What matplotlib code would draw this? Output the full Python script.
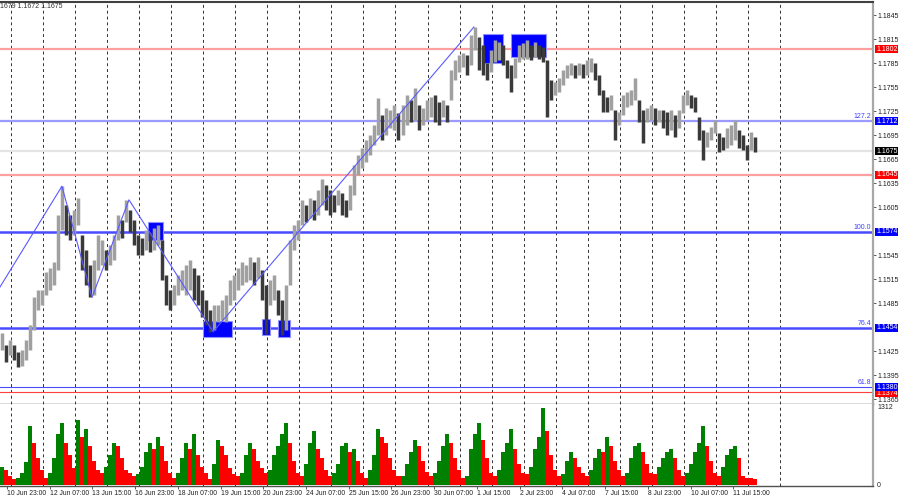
import numpy as np
import matplotlib
matplotlib.use('Agg')
import matplotlib.pyplot as plt
from matplotlib.patches import Rectangle
from matplotlib.transforms import blended_transform_factory

# ---- data: EURUSD, each bar below = 3 hours of the H1 chart ----
highs = [
    1.1447, 1.1432, 1.1439, 1.1432, 1.1424, 1.1426, 1.1439, 1.1457, 1.1492, 1.1501,
    1.1501, 1.1524, 1.1529, 1.1536, 1.1595, 1.1631, 1.1607, 1.1595, 1.1601, 1.1616,
    1.1570, 1.1551, 1.1532, 1.1539, 1.1570, 1.1564, 1.1551, 1.1557, 1.1570, 1.1595,
    1.1589, 1.1614, 1.1601, 1.1589, 1.1570, 1.1566, 1.1576, 1.1574, 1.1579, 1.1582,
    1.1564, 1.1520, 1.1501, 1.1507, 1.1520, 1.1526, 1.1532, 1.1539, 1.1529, 1.1520,
    1.1501, 1.1489, 1.1476, 1.1482, 1.1482, 1.1489, 1.1495, 1.1514, 1.1520, 1.1529,
    1.1536, 1.1532, 1.1542, 1.1536, 1.1542, 1.1526, 1.1507, 1.1514, 1.1520, 1.1501,
    1.1489, 1.1507, 1.1564, 1.1582, 1.1589, 1.1614, 1.1607, 1.1616, 1.1614, 1.1626,
    1.1640, 1.1632, 1.1626, 1.1620, 1.1626, 1.1622, 1.1614, 1.1632, 1.1657, 1.1670,
    1.1679, 1.1689, 1.1695, 1.1707, 1.1741, 1.1720, 1.1729, 1.1726, 1.1732, 1.1722,
    1.1732, 1.1745, 1.1739, 1.1754, 1.1732, 1.1729, 1.1739, 1.1742, 1.1745, 1.1736,
    1.1739, 1.1732, 1.1776, 1.1789, 1.1795, 1.1797, 1.1795, 1.1820, 1.1830, 1.1817,
    1.1807, 1.1785, 1.1801, 1.1814, 1.1811, 1.1807, 1.1789, 1.1782, 1.1791, 1.1807,
    1.1810, 1.1814, 1.1807, 1.1811, 1.1807, 1.1805, 1.1789, 1.1764, 1.1761, 1.1766,
    1.1776, 1.1782, 1.1785, 1.1782, 1.1785, 1.1784, 1.1789, 1.1791, 1.1785, 1.1770,
    1.1751, 1.1742, 1.1745, 1.1726, 1.1724, 1.1745, 1.1749, 1.1751, 1.1766, 1.1739,
    1.1726, 1.1729, 1.1732, 1.1729, 1.1726, 1.1726, 1.1724, 1.1726, 1.1720, 1.1726,
    1.1745, 1.1751, 1.1745, 1.1742, 1.1717, 1.1701, 1.1699, 1.1705, 1.1714, 1.1697,
    1.1692, 1.1704, 1.1707, 1.1714, 1.1701, 1.1695, 1.1682, 1.1699, 1.1692,
]
lows = [
    1.1426, 1.1411, 1.1420, 1.1414, 1.1405, 1.1406, 1.1414, 1.1426, 1.1451, 1.1476,
    1.1482, 1.1495, 1.1501, 1.1507, 1.1526, 1.1576, 1.1570, 1.1564, 1.1570, 1.1582,
    1.1526, 1.1507, 1.1492, 1.1495, 1.1526, 1.1532, 1.1526, 1.1532, 1.1539, 1.1564,
    1.1566, 1.1586, 1.1574, 1.1557, 1.1545, 1.1545, 1.1551, 1.1549, 1.1551, 1.1557,
    1.1514, 1.1482, 1.1476, 1.1482, 1.1495, 1.1501, 1.1495, 1.1501, 1.1489, 1.1482,
    1.1467, 1.1457, 1.1449, 1.1451, 1.1461, 1.1464, 1.1461, 1.1482, 1.1489, 1.1501,
    1.1507, 1.1511, 1.1514, 1.1507, 1.1516, 1.1489, 1.1446, 1.1482, 1.1489, 1.1470,
    1.1445, 1.1451, 1.1507, 1.1551, 1.1564, 1.1582, 1.1586, 1.1591, 1.1589, 1.1595,
    1.1607, 1.1601, 1.1595, 1.1599, 1.1607, 1.1595, 1.1592, 1.1601, 1.1620, 1.1645,
    1.1654, 1.1661, 1.1670, 1.1682, 1.1695, 1.1689, 1.1695, 1.1704, 1.1701, 1.1689,
    1.1695, 1.1707, 1.1711, 1.1714, 1.1701, 1.1707, 1.1714, 1.1717, 1.1711, 1.1707,
    1.1717, 1.1711, 1.1739, 1.1764, 1.1774, 1.1780, 1.1770, 1.1782, 1.1801, 1.1776,
    1.1770, 1.1764, 1.1774, 1.1786, 1.1789, 1.1782, 1.1766, 1.1749, 1.1766, 1.1786,
    1.1790, 1.1790, 1.1789, 1.1792, 1.1790, 1.1786, 1.1717, 1.1739, 1.1745, 1.1749,
    1.1757, 1.1766, 1.1770, 1.1766, 1.1770, 1.1766, 1.1770, 1.1774, 1.1764, 1.1745,
    1.1724, 1.1724, 1.1726, 1.1689, 1.1707, 1.1720, 1.1730, 1.1732, 1.1739, 1.1711,
    1.1685, 1.1711, 1.1714, 1.1707, 1.1711, 1.1704, 1.1695, 1.1701, 1.1692, 1.1704,
    1.1722, 1.1732, 1.1729, 1.1724, 1.1689, 1.1664, 1.1680, 1.1689, 1.1697, 1.1674,
    1.1676, 1.1679, 1.1682, 1.1689, 1.1679, 1.1676, 1.1664, 1.1676, 1.1674,
]
volumes = [
    300, 250, 150, 100, 120, 200, 380, 1000, 700, 450,
    250, 120, 200, 450, 850, 1050, 700, 500, 280, 1100,
    800, 950, 650, 400, 250, 200, 300, 500, 700, 650,
    450, 250, 200, 150, 180, 300, 550, 700, 600, 800,
    650, 400, 200, 120, 200, 450, 700, 600, 850, 500,
    300, 200, 100, 350, 750, 650, 500, 280, 180, 150,
    200, 500, 700, 600, 400, 280, 200, 250, 500, 650,
    850, 1050, 700, 400, 200, 150, 350, 700, 900, 600,
    450, 250, 150, 200, 350, 650, 700, 550, 600, 400,
    200, 120, 250, 500, 950, 800, 700, 450, 250, 150,
    150, 350, 550, 750, 650, 400, 220, 150, 200, 400,
    650, 850, 700, 450, 250, 120, 150, 600, 850, 1050,
    750, 450, 200, 150, 250, 550, 700, 950, 600, 350,
    200, 180, 300, 600, 800, 1300, 900, 500, 250, 150,
    180, 400, 550, 450, 300, 200, 150, 250, 450, 600,
    550, 800, 650, 400, 250, 150, 200, 450, 650, 700,
    550, 350, 200, 180, 300, 450, 550, 600, 450, 250,
    150, 200, 350, 550, 700, 1000, 650, 400, 200, 150,
    300, 500, 600, 650, 450, 150, 120, 110, 100,
]
vol_max = 1312
last_price = 1.1675
header = "1679 1.1672 1.1675"

time_labels = ["10 Jun 23:00", "12 Jun 07:00", "13 Jun 15:00", "16 Jun 23:00",
               "18 Jun 07:00", "19 Jun 15:00", "20 Jun 23:00", "24 Jun 07:00",
               "25 Jun 15:00", "26 Jun 23:00", "30 Jun 07:00", "1 Jul 15:00",
               "2 Jul 23:00", "4 Jul 07:00", "7 Jul 15:00", "8 Jul 23:00",
               "10 Jul 07:00", "11 Jul 15:00"]
price_ticks = [1.1365, 1.1395, 1.1425, 1.1485, 1.1515, 1.1545, 1.1605, 1.1635,
               1.1665, 1.1695, 1.1725, 1.1755, 1.1785, 1.1815, 1.1845]

red_levels = [1.1802, 1.1645, 1.1374]
fib_levels = [1.1712, 1.1574, 1.1454, 1.1380]
fib_names = ["127.2", "100.0", "76.4", "61.8"]

# zigzag pivots (hour index, price)
zz_hours = [0, 46.4, 68.9, 96.6, 159.6, 355.0]
zz_prices = [1.1505, 1.1631, 1.1492, 1.1614, 1.1449, 1.1830]

# blue signal boxes
box_start = [110.9, 152.1, 196.3, 208.2, 361.8, 382.8]
box_end = [122.1, 173.8, 202.2, 217.2, 376.8, 409.0]
box_top = [1.1586, 1.1463, 1.1465, 1.1464, 1.1821, 1.1821]
box_bottom = [1.1564, 1.1443, 1.1445, 1.1443, 1.1785, 1.1792]

# ---- layout (pixels of a 900x500 canvas) ----
W, H = 900, 500
PX_HOUR = 1.335
plt.rcParams['font.family'] = ['Liberation Sans', 'DejaVu Sans']
FS = 5.0

fig = plt.figure(figsize=(9, 5), dpi=100)
fig.patch.set_facecolor('white')
ax = fig.add_axes([0, 1 - 404 / H, 873 / W, 402 / H])
axv = fig.add_axes([0, 1 - 486 / H, 873 / W, 82 / H])

xmax = 873 / PX_HOUR
ax.set_xlim(0, xmax)
axv.set_xlim(0, xmax)
ax.set_ylim(1.1815 - 365 / 8000, 1.1815 + 37 / 8000)
axv.set_ylim(-17, vol_max * 81 / 78)

n = len(highs)
x = np.arange(n) * 3 + 1.5
mids = (np.array(highs) + np.array(lows)) / 2
up = np.r_[True, mids[1:] >= mids[:-1]]

# vertical dashed grid (one per day)
for k in range(25):
    gx = 8.24 + 24 * k
    for a in (ax, axv):
        a.axvline(gx, color='#303030', lw=0.7, ls=(0, (3, 3)), zorder=1)

# horizontal levels
tr = blended_transform_factory(ax.transAxes, ax.transData)
ax.axhline(last_price, color='#e4e4e4', lw=1.6, zorder=1)
for p in red_levels[:2]:
    ax.axhline(p, color='#ffa0a0', lw=1.6, zorder=1)
ax.axhline(red_levels[2], color='#ff4040', lw=0.8, zorder=1)
fib_styles = [('#9a9aff', 1.6), ('#4a4aff', 1.8), ('#4a4aff', 1.8), ('#4a4aff', 0.8)]
for p, name, (c, lw) in zip(fib_levels, fib_names, fib_styles):
    ax.axhline(p, color=c, lw=lw, zorder=1)
    ax.text(0.998, p + 0.00012, name, transform=tr, ha='right', va='bottom',
            fontsize=FS, color='#4040ff')

# boxes
for x0, x1, t, b in zip(box_start, box_end, box_top, box_bottom):
    ax.add_patch(Rectangle((x0, b), x1 - x0, t - b, facecolor='#0000ff',
                           edgecolor='#9090ff', lw=0.8, zorder=2))

# price bars
colors = np.where(up, '#a0a0a0', '#3a3a3a')
ax.vlines(x, lows, highs, colors=colors, lw=2.5, zorder=3)

# zigzag
ax.plot(zz_hours, zz_prices, color='#5a5aff', lw=0.8, zorder=4)

# volumes
vol = np.array(volumes)
vup = np.r_[True, vol[1:] >= vol[:-1]]
axv.bar(x, vol, width=3.0, color=np.where(vup, '#008000', '#ff0000'),
        linewidth=0, zorder=2)

# frames
for a in (ax, axv):
    a.set_facecolor('white')
    a.spines['left'].set_visible(False)
    a.spines['right'].set_color('#a8a8a8')
    a.spines['right'].set_linewidth(1.6)
ax.spines['top'].set_color('#404040')
ax.spines['top'].set_linewidth(1.5)
ax.spines['bottom'].set_color('#505050')
ax.spines['bottom'].set_linewidth(1.0)
axv.spines['top'].set_visible(False)
axv.spines['bottom'].set_color('#505050')
axv.spines['bottom'].set_linewidth(1.0)

# price axis
ax.set_xticks([])
ax.yaxis.tick_right()
ax.set_yticks(price_ticks)
ax.set_yticklabels([f"{p:.4f}" for p in price_ticks])
ax.tick_params(axis='y', length=2, width=0.6, color='#404040', pad=1.5,
               labelsize=FS, labelcolor='#202020')

def price_box(p, color, dy=0.0):
    ax.text(1.0035, p + dy, f"{p:.4f}", transform=tr, ha='left', va='center',
            fontsize=FS, color='white', clip_on=False, zorder=6,
            bbox=dict(boxstyle='square,pad=0.08', fc=color, ec='none'))

price_box(red_levels[0], '#ff0000')
price_box(red_levels[1], '#ff0000')
price_box(red_levels[2], '#ff0000', dy=-0.00015)
for p in fib_levels:
    price_box(p, '#0000ff')
price_box(last_price, '#000000')

# volume axis
axv.yaxis.tick_right()
axv.set_yticks([0, vol_max])
axv.set_yticklabels(["0", str(vol_max)])
axv.tick_params(axis='y', length=0, pad=3, labelsize=FS, labelcolor='#202020')

# time axis
axv.set_xticks([5.24 + 32 * k for k in range(len(time_labels))])
axv.set_xticklabels(time_labels, ha='left', fontsize=4.9)
axv.tick_params(axis='x', length=2, width=0.6, color='#404040', pad=1,
                labelcolor='#202020')

fig.text(0.0, 1 - 6 / H, header, fontsize=FS, ha='left', va='center', color='#303030')

fig.savefig("out.png", dpi=100, facecolor='white')
